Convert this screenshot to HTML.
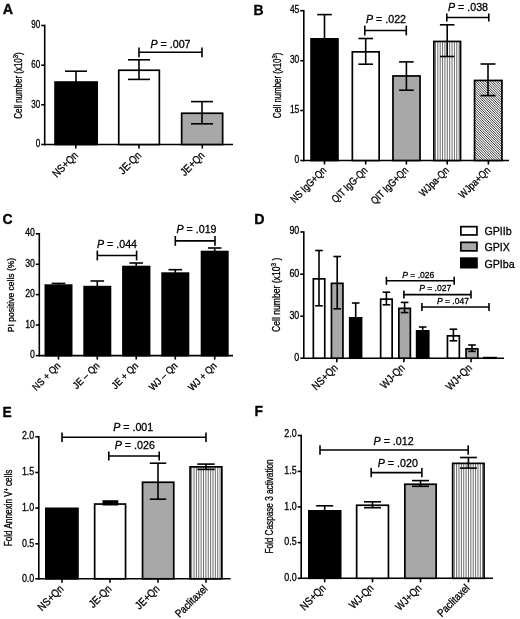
<!DOCTYPE html>
<html lang="en">
<head>
<meta charset="utf-8">
<title>Figure</title>
<style>
html,body{margin:0;padding:0;background:#fff;}
body{width:520px;height:619px;overflow:hidden;}
svg{display:block;}
svg text{font-family:"Liberation Sans",Arial,Helvetica,sans-serif;fill:#000;stroke:#000;stroke-width:0.3px;}
</style>
</head>
<body>
<svg width="520" height="619" viewBox="0 0 520 619">
<rect width="520" height="619" fill="#fff"/>
<text transform="translate(2.80,14.40)" font-size="14.3" text-anchor="start" font-weight="bold" font-style="normal">A</text>
<line x1="44.70" y1="24.70" x2="44.70" y2="145.30" stroke="#000" stroke-width="1.6"/>
<line x1="43.90" y1="144.50" x2="233.00" y2="144.50" stroke="#000" stroke-width="1.6"/>
<line x1="41.20" y1="25.50" x2="44.70" y2="25.50" stroke="#000" stroke-width="1.6"/>
<text transform="translate(40.20,27.50) scale(0.79,1)" font-size="10.2" text-anchor="end" font-weight="normal" font-style="normal">90</text>
<line x1="41.20" y1="65.20" x2="44.70" y2="65.20" stroke="#000" stroke-width="1.6"/>
<text transform="translate(40.20,67.90) scale(0.79,1)" font-size="10.2" text-anchor="end" font-weight="normal" font-style="normal">60</text>
<line x1="41.20" y1="104.80" x2="44.70" y2="104.80" stroke="#000" stroke-width="1.6"/>
<text transform="translate(40.20,107.50) scale(0.79,1)" font-size="10.2" text-anchor="end" font-weight="normal" font-style="normal">30</text>
<line x1="41.20" y1="144.50" x2="44.70" y2="144.50" stroke="#000" stroke-width="1.6"/>
<text transform="translate(40.20,147.20) scale(0.79,1)" font-size="10.2" text-anchor="end" font-weight="normal" font-style="normal">0</text>
<line x1="75.80" y1="144.50" x2="75.80" y2="148.50" stroke="#000" stroke-width="1.6"/>
<line x1="139.00" y1="144.50" x2="139.00" y2="148.50" stroke="#000" stroke-width="1.6"/>
<line x1="202.30" y1="144.50" x2="202.30" y2="148.50" stroke="#000" stroke-width="1.6"/>
<rect x="55.05" y="82.05" width="42.10" height="62.45" fill="#000" stroke="#000" stroke-width="1.7"/>
<rect x="118.75" y="70.25" width="40.60" height="74.25" fill="#fff" stroke="#000" stroke-width="1.7"/>
<rect x="181.65" y="113.25" width="41.00" height="31.25" fill="#a8a8a8" stroke="#000" stroke-width="1.7"/>
<line x1="76.00" y1="71.20" x2="76.00" y2="82.00" stroke="#000" stroke-width="1.6"/>
<line x1="65.00" y1="71.20" x2="87.00" y2="71.20" stroke="#000" stroke-width="1.6"/>
<line x1="139.00" y1="59.80" x2="139.00" y2="79.40" stroke="#000" stroke-width="1.6"/>
<line x1="128.00" y1="59.80" x2="150.00" y2="59.80" stroke="#000" stroke-width="1.6"/>
<line x1="128.00" y1="79.40" x2="150.00" y2="79.40" stroke="#000" stroke-width="1.6"/>
<line x1="202.00" y1="101.60" x2="202.00" y2="123.80" stroke="#000" stroke-width="1.6"/>
<line x1="191.00" y1="101.60" x2="213.00" y2="101.60" stroke="#000" stroke-width="1.6"/>
<line x1="191.00" y1="123.80" x2="213.00" y2="123.80" stroke="#000" stroke-width="1.6"/>
<line x1="139.00" y1="52.30" x2="202.00" y2="52.30" stroke="#000" stroke-width="1.6"/>
<line x1="139.00" y1="47.40" x2="139.00" y2="57.20" stroke="#000" stroke-width="1.6"/>
<line x1="202.00" y1="47.40" x2="202.00" y2="57.20" stroke="#000" stroke-width="1.6"/>
<text transform="translate(170.50,48.00) scale(0.97,1)" font-size="11" text-anchor="middle" font-weight="normal" font-style="normal"><tspan font-style="italic">P</tspan> = .007</text>
<text transform="translate(78.80,156.00) rotate(-45) scale(0.86,1)" font-size="11" text-anchor="end" font-weight="normal" font-style="normal">NS+Qn</text>
<text transform="translate(142.00,156.00) rotate(-45) scale(0.86,1)" font-size="11" text-anchor="end" font-weight="normal" font-style="normal">JE-Qn</text>
<text transform="translate(205.30,156.00) rotate(-45) scale(0.86,1)" font-size="11" text-anchor="end" font-weight="normal" font-style="normal">JE+Qn</text>
<text transform="translate(21.90,85.50) rotate(-90) scale(0.795,1)" font-size="10" text-anchor="middle" font-weight="normal" font-style="normal">Cell number (x10<tspan font-size="7.5" dy="-3.7">3</tspan><tspan dy="3.7">)</tspan></text>
<text transform="translate(253.50,14.60)" font-size="14" text-anchor="start" font-weight="bold" font-style="normal">B</text>
<line x1="303.80" y1="9.90" x2="303.80" y2="161.30" stroke="#000" stroke-width="1.6"/>
<line x1="303.00" y1="160.50" x2="509.00" y2="160.50" stroke="#000" stroke-width="1.6"/>
<line x1="300.30" y1="10.70" x2="303.80" y2="10.70" stroke="#000" stroke-width="1.6"/>
<text transform="translate(299.30,12.70) scale(0.78,1)" font-size="10.8" text-anchor="end" font-weight="normal" font-style="normal">45</text>
<line x1="300.30" y1="60.70" x2="303.80" y2="60.70" stroke="#000" stroke-width="1.6"/>
<text transform="translate(299.30,63.40) scale(0.78,1)" font-size="10.8" text-anchor="end" font-weight="normal" font-style="normal">30</text>
<line x1="300.30" y1="110.50" x2="303.80" y2="110.50" stroke="#000" stroke-width="1.6"/>
<text transform="translate(299.30,113.20) scale(0.78,1)" font-size="10.8" text-anchor="end" font-weight="normal" font-style="normal">15</text>
<line x1="300.30" y1="160.50" x2="303.80" y2="160.50" stroke="#000" stroke-width="1.6"/>
<text transform="translate(299.30,163.20) scale(0.78,1)" font-size="10.8" text-anchor="end" font-weight="normal" font-style="normal">0</text>
<line x1="324.50" y1="160.50" x2="324.50" y2="164.50" stroke="#000" stroke-width="1.6"/>
<line x1="365.70" y1="160.50" x2="365.70" y2="164.50" stroke="#000" stroke-width="1.6"/>
<line x1="406.40" y1="160.50" x2="406.40" y2="164.50" stroke="#000" stroke-width="1.6"/>
<line x1="447.20" y1="160.50" x2="447.20" y2="164.50" stroke="#000" stroke-width="1.6"/>
<line x1="488.40" y1="160.50" x2="488.40" y2="164.50" stroke="#000" stroke-width="1.6"/>
<rect x="311.05" y="38.85" width="26.90" height="121.65" fill="#000" stroke="#000" stroke-width="1.7"/>
<rect x="352.35" y="51.85" width="26.80" height="108.65" fill="#fff" stroke="#000" stroke-width="1.7"/>
<rect x="392.95" y="75.95" width="27.10" height="84.55" fill="#a8a8a8" stroke="#000" stroke-width="1.7"/>
<clipPath id="c1"><rect x="433.85" y="41.45" width="26.70" height="119.05"/></clipPath>
<rect x="433.85" y="41.45" width="26.70" height="119.05" fill="#fff"/>
<path clip-path="url(#c1)" d="M435.45 40.60V160.50M437.82 40.60V160.50M440.19 40.60V160.50M442.56 40.60V160.50M444.93 40.60V160.50M447.30 40.60V160.50M449.67 40.60V160.50M452.04 40.60V160.50M454.41 40.60V160.50M456.78 40.60V160.50M459.15 40.60V160.50" stroke="#3a3a3a" stroke-width="0.75" fill="none"/>
<rect x="433.85" y="41.45" width="26.70" height="119.05" fill="none" stroke="#000" stroke-width="1.7"/>
<clipPath id="c2"><rect x="474.55" y="80.45" width="27.40" height="80.05"/></clipPath>
<rect x="474.55" y="80.45" width="27.40" height="80.05" fill="#fff"/>
<path clip-path="url(#c2)" d="M392.80 79.60l80.90 80.90M395.25 79.60l80.90 80.90M397.70 79.60l80.90 80.90M400.15 79.60l80.90 80.90M402.60 79.60l80.90 80.90M405.05 79.60l80.90 80.90M407.50 79.60l80.90 80.90M409.95 79.60l80.90 80.90M412.40 79.60l80.90 80.90M414.85 79.60l80.90 80.90M417.30 79.60l80.90 80.90M419.75 79.60l80.90 80.90M422.20 79.60l80.90 80.90M424.65 79.60l80.90 80.90M427.10 79.60l80.90 80.90M429.55 79.60l80.90 80.90M432.00 79.60l80.90 80.90M434.45 79.60l80.90 80.90M436.90 79.60l80.90 80.90M439.35 79.60l80.90 80.90M441.80 79.60l80.90 80.90M444.25 79.60l80.90 80.90M446.70 79.60l80.90 80.90M449.15 79.60l80.90 80.90M451.60 79.60l80.90 80.90M454.05 79.60l80.90 80.90M456.50 79.60l80.90 80.90M458.95 79.60l80.90 80.90M461.40 79.60l80.90 80.90M463.85 79.60l80.90 80.90M466.30 79.60l80.90 80.90M468.75 79.60l80.90 80.90M471.20 79.60l80.90 80.90M473.65 79.60l80.90 80.90M476.10 79.60l80.90 80.90M478.55 79.60l80.90 80.90M481.00 79.60l80.90 80.90M483.45 79.60l80.90 80.90M485.90 79.60l80.90 80.90M488.35 79.60l80.90 80.90M490.80 79.60l80.90 80.90M493.25 79.60l80.90 80.90M495.70 79.60l80.90 80.90M498.15 79.60l80.90 80.90M500.60 79.60l80.90 80.90" stroke="#1a1a1a" stroke-width="0.85" fill="none"/>
<rect x="474.55" y="80.45" width="27.40" height="80.05" fill="none" stroke="#000" stroke-width="1.7"/>
<line x1="324.50" y1="14.60" x2="324.50" y2="39.00" stroke="#000" stroke-width="1.6"/>
<line x1="317.20" y1="14.60" x2="331.80" y2="14.60" stroke="#000" stroke-width="1.6"/>
<line x1="365.70" y1="38.50" x2="365.70" y2="64.20" stroke="#000" stroke-width="1.6"/>
<line x1="358.40" y1="38.50" x2="373.00" y2="38.50" stroke="#000" stroke-width="1.6"/>
<line x1="358.40" y1="64.20" x2="373.00" y2="64.20" stroke="#000" stroke-width="1.6"/>
<line x1="406.40" y1="61.90" x2="406.40" y2="90.20" stroke="#000" stroke-width="1.6"/>
<line x1="399.10" y1="61.90" x2="413.70" y2="61.90" stroke="#000" stroke-width="1.6"/>
<line x1="399.10" y1="90.20" x2="413.70" y2="90.20" stroke="#000" stroke-width="1.6"/>
<line x1="447.20" y1="24.80" x2="447.20" y2="56.50" stroke="#000" stroke-width="1.6"/>
<line x1="439.90" y1="24.80" x2="454.50" y2="24.80" stroke="#000" stroke-width="1.6"/>
<line x1="439.90" y1="56.50" x2="454.50" y2="56.50" stroke="#000" stroke-width="1.6"/>
<line x1="488.00" y1="64.00" x2="488.00" y2="95.60" stroke="#000" stroke-width="1.6"/>
<line x1="480.50" y1="64.00" x2="495.50" y2="64.00" stroke="#000" stroke-width="1.6"/>
<line x1="480.50" y1="95.60" x2="495.50" y2="95.60" stroke="#000" stroke-width="1.6"/>
<line x1="364.80" y1="30.50" x2="406.30" y2="30.50" stroke="#000" stroke-width="1.6"/>
<line x1="364.80" y1="25.60" x2="364.80" y2="35.40" stroke="#000" stroke-width="1.6"/>
<line x1="406.30" y1="25.60" x2="406.30" y2="35.40" stroke="#000" stroke-width="1.6"/>
<line x1="446.80" y1="17.50" x2="488.80" y2="17.50" stroke="#000" stroke-width="1.6"/>
<line x1="446.80" y1="13.50" x2="446.80" y2="21.50" stroke="#000" stroke-width="1.6"/>
<line x1="488.80" y1="13.50" x2="488.80" y2="21.50" stroke="#000" stroke-width="1.6"/>
<text transform="translate(386.00,22.60) scale(0.97,1)" font-size="11" text-anchor="middle" font-weight="normal" font-style="normal"><tspan font-style="italic">P</tspan> = .022</text>
<text transform="translate(468.00,10.80) scale(0.97,1)" font-size="11" text-anchor="middle" font-weight="normal" font-style="normal"><tspan font-style="italic">P</tspan> = .038</text>
<text transform="translate(327.00,171.10) rotate(-45) scale(0.83,1)" font-size="10.6" text-anchor="end" font-weight="normal" font-style="normal">NS IgG+Qn</text>
<text transform="translate(368.20,171.10) rotate(-45) scale(0.83,1)" font-size="10.6" text-anchor="end" font-weight="normal" font-style="normal">QIT IgG-Qn</text>
<text transform="translate(408.90,171.10) rotate(-45) scale(0.83,1)" font-size="10.6" text-anchor="end" font-weight="normal" font-style="normal">QIT IgG+Qn</text>
<text transform="translate(449.70,171.10) rotate(-45) scale(0.83,1)" font-size="10.6" text-anchor="end" font-weight="normal" font-style="normal">WJpa-Qn</text>
<text transform="translate(490.90,171.10) rotate(-45) scale(0.83,1)" font-size="10.6" text-anchor="end" font-weight="normal" font-style="normal">WJpa+Qn</text>
<text transform="translate(281.10,85.40) rotate(-90) scale(0.785,1)" font-size="10" text-anchor="middle" font-weight="normal" font-style="normal">Cell number (x10<tspan font-size="7.5" dy="-3.7">3</tspan><tspan dy="3.7">)</tspan></text>
<text transform="translate(2.50,224.40)" font-size="14" text-anchor="start" font-weight="bold" font-style="normal">C</text>
<line x1="39.30" y1="233.00" x2="39.30" y2="356.40" stroke="#000" stroke-width="1.6"/>
<line x1="38.50" y1="355.60" x2="233.00" y2="355.60" stroke="#000" stroke-width="1.6"/>
<line x1="35.80" y1="233.80" x2="39.30" y2="233.80" stroke="#000" stroke-width="1.6"/>
<text transform="translate(34.80,235.80) scale(0.87,1)" font-size="10" text-anchor="end" font-weight="normal" font-style="normal">40</text>
<line x1="35.80" y1="264.30" x2="39.30" y2="264.30" stroke="#000" stroke-width="1.6"/>
<text transform="translate(34.80,267.00) scale(0.87,1)" font-size="10" text-anchor="end" font-weight="normal" font-style="normal">30</text>
<line x1="35.80" y1="294.60" x2="39.30" y2="294.60" stroke="#000" stroke-width="1.6"/>
<text transform="translate(34.80,297.30) scale(0.87,1)" font-size="10" text-anchor="end" font-weight="normal" font-style="normal">20</text>
<line x1="35.80" y1="325.00" x2="39.30" y2="325.00" stroke="#000" stroke-width="1.6"/>
<text transform="translate(34.80,327.70) scale(0.87,1)" font-size="10" text-anchor="end" font-weight="normal" font-style="normal">10</text>
<line x1="35.80" y1="355.60" x2="39.30" y2="355.60" stroke="#000" stroke-width="1.6"/>
<text transform="translate(34.80,358.30) scale(0.87,1)" font-size="10" text-anchor="end" font-weight="normal" font-style="normal">0</text>
<line x1="58.50" y1="355.60" x2="58.50" y2="359.60" stroke="#000" stroke-width="1.6"/>
<line x1="97.30" y1="355.60" x2="97.30" y2="359.60" stroke="#000" stroke-width="1.6"/>
<line x1="136.20" y1="355.60" x2="136.20" y2="359.60" stroke="#000" stroke-width="1.6"/>
<line x1="175.30" y1="355.60" x2="175.30" y2="359.60" stroke="#000" stroke-width="1.6"/>
<line x1="214.70" y1="355.60" x2="214.70" y2="359.60" stroke="#000" stroke-width="1.6"/>
<rect x="45.35" y="285.15" width="26.30" height="70.45" fill="#000" stroke="#000" stroke-width="1.7"/>
<rect x="84.15" y="286.65" width="26.30" height="68.95" fill="#000" stroke="#000" stroke-width="1.7"/>
<rect x="122.95" y="266.55" width="26.60" height="89.05" fill="#000" stroke="#000" stroke-width="1.7"/>
<rect x="162.15" y="273.15" width="26.30" height="82.45" fill="#000" stroke="#000" stroke-width="1.7"/>
<rect x="201.55" y="251.55" width="26.30" height="104.05" fill="#000" stroke="#000" stroke-width="1.7"/>
<line x1="58.50" y1="283.40" x2="58.50" y2="285.00" stroke="#000" stroke-width="1.6"/>
<line x1="51.70" y1="283.40" x2="65.30" y2="283.40" stroke="#000" stroke-width="1.6"/>
<line x1="97.30" y1="281.00" x2="97.30" y2="286.00" stroke="#000" stroke-width="1.6"/>
<line x1="90.50" y1="281.00" x2="104.10" y2="281.00" stroke="#000" stroke-width="1.6"/>
<line x1="136.20" y1="263.00" x2="136.20" y2="266.00" stroke="#000" stroke-width="1.6"/>
<line x1="129.40" y1="263.00" x2="143.00" y2="263.00" stroke="#000" stroke-width="1.6"/>
<line x1="175.30" y1="269.70" x2="175.30" y2="273.00" stroke="#000" stroke-width="1.6"/>
<line x1="168.50" y1="269.70" x2="182.10" y2="269.70" stroke="#000" stroke-width="1.6"/>
<line x1="214.70" y1="248.00" x2="214.70" y2="251.00" stroke="#000" stroke-width="1.6"/>
<line x1="207.90" y1="248.00" x2="221.50" y2="248.00" stroke="#000" stroke-width="1.6"/>
<line x1="97.30" y1="255.50" x2="136.60" y2="255.50" stroke="#000" stroke-width="1.6"/>
<line x1="97.30" y1="250.60" x2="97.30" y2="260.40" stroke="#000" stroke-width="1.6"/>
<line x1="136.60" y1="250.60" x2="136.60" y2="260.40" stroke="#000" stroke-width="1.6"/>
<line x1="175.30" y1="240.90" x2="215.00" y2="240.90" stroke="#000" stroke-width="1.6"/>
<line x1="175.30" y1="236.00" x2="175.30" y2="245.80" stroke="#000" stroke-width="1.6"/>
<line x1="215.00" y1="236.00" x2="215.00" y2="245.80" stroke="#000" stroke-width="1.6"/>
<text transform="translate(117.00,247.50) scale(0.97,1)" font-size="11" text-anchor="middle" font-weight="normal" font-style="normal"><tspan font-style="italic">P</tspan> = .044</text>
<text transform="translate(196.50,233.00) scale(0.97,1)" font-size="11" text-anchor="middle" font-weight="normal" font-style="normal"><tspan font-style="italic">P</tspan> = .019</text>
<text transform="translate(61.20,366.30) rotate(-45) scale(0.91,1)" font-size="10" text-anchor="end" font-weight="normal" font-style="normal">NS + Qn</text>
<text transform="translate(100.00,366.30) rotate(-45) scale(0.91,1)" font-size="10" text-anchor="end" font-weight="normal" font-style="normal">JE – Qn</text>
<text transform="translate(138.90,366.30) rotate(-45) scale(0.91,1)" font-size="10" text-anchor="end" font-weight="normal" font-style="normal">JE + Qn</text>
<text transform="translate(178.00,366.30) rotate(-45) scale(0.91,1)" font-size="10" text-anchor="end" font-weight="normal" font-style="normal">WJ – Qn</text>
<text transform="translate(217.40,366.30) rotate(-45) scale(0.91,1)" font-size="10" text-anchor="end" font-weight="normal" font-style="normal">WJ + Qn</text>
<text transform="translate(13.90,295.00) rotate(-90) scale(0.9,1)" font-size="9.5" text-anchor="middle" font-weight="normal" font-style="normal">PI positive cells (%)</text>
<text transform="translate(254.30,224.40)" font-size="14.2" text-anchor="start" font-weight="bold" font-style="normal">D</text>
<line x1="303.80" y1="231.20" x2="303.80" y2="359.00" stroke="#000" stroke-width="1.6"/>
<line x1="303.00" y1="358.20" x2="504.00" y2="358.20" stroke="#000" stroke-width="1.6"/>
<line x1="300.30" y1="232.00" x2="303.80" y2="232.00" stroke="#000" stroke-width="1.6"/>
<text transform="translate(299.30,234.00) scale(0.87,1)" font-size="10.2" text-anchor="end" font-weight="normal" font-style="normal">90</text>
<line x1="300.30" y1="274.20" x2="303.80" y2="274.20" stroke="#000" stroke-width="1.6"/>
<text transform="translate(299.30,276.90) scale(0.87,1)" font-size="10.2" text-anchor="end" font-weight="normal" font-style="normal">60</text>
<line x1="300.30" y1="316.20" x2="303.80" y2="316.20" stroke="#000" stroke-width="1.6"/>
<text transform="translate(299.30,318.90) scale(0.87,1)" font-size="10.2" text-anchor="end" font-weight="normal" font-style="normal">30</text>
<line x1="300.30" y1="358.20" x2="303.80" y2="358.20" stroke="#000" stroke-width="1.6"/>
<text transform="translate(299.30,360.90) scale(0.87,1)" font-size="10.2" text-anchor="end" font-weight="normal" font-style="normal">0</text>
<line x1="336.80" y1="358.20" x2="336.80" y2="362.20" stroke="#000" stroke-width="1.6"/>
<line x1="403.90" y1="358.20" x2="403.90" y2="362.20" stroke="#000" stroke-width="1.6"/>
<line x1="471.00" y1="358.20" x2="471.00" y2="362.20" stroke="#000" stroke-width="1.6"/>
<rect x="313.35" y="278.85" width="11.40" height="79.35" fill="#fff" stroke="#000" stroke-width="1.7"/>
<rect x="331.45" y="283.35" width="11.50" height="74.85" fill="#a8a8a8" stroke="#000" stroke-width="1.7"/>
<rect x="349.75" y="317.85" width="11.80" height="40.35" fill="#000" stroke="#000" stroke-width="1.7"/>
<rect x="380.65" y="299.15" width="11.50" height="59.05" fill="#fff" stroke="#000" stroke-width="1.7"/>
<rect x="398.85" y="308.35" width="11.50" height="49.85" fill="#a8a8a8" stroke="#000" stroke-width="1.7"/>
<rect x="416.65" y="330.85" width="12.10" height="27.35" fill="#000" stroke="#000" stroke-width="1.7"/>
<rect x="447.45" y="335.85" width="11.90" height="22.35" fill="#fff" stroke="#000" stroke-width="1.7"/>
<rect x="466.05" y="348.85" width="11.80" height="9.35" fill="#a8a8a8" stroke="#000" stroke-width="1.7"/>
<rect x="483.85" y="357.65" width="12.30" height="0.55" fill="#000" stroke="#000" stroke-width="1.7"/>
<line x1="319.00" y1="250.50" x2="319.00" y2="305.80" stroke="#000" stroke-width="1.6"/>
<line x1="315.20" y1="250.50" x2="322.80" y2="250.50" stroke="#000" stroke-width="1.6"/>
<line x1="315.20" y1="305.80" x2="322.80" y2="305.80" stroke="#000" stroke-width="1.6"/>
<line x1="337.20" y1="256.50" x2="337.20" y2="308.80" stroke="#000" stroke-width="1.6"/>
<line x1="333.40" y1="256.50" x2="341.00" y2="256.50" stroke="#000" stroke-width="1.6"/>
<line x1="333.40" y1="308.80" x2="341.00" y2="308.80" stroke="#000" stroke-width="1.6"/>
<line x1="355.70" y1="303.00" x2="355.70" y2="318.00" stroke="#000" stroke-width="1.6"/>
<line x1="351.90" y1="303.00" x2="359.50" y2="303.00" stroke="#000" stroke-width="1.6"/>
<line x1="386.40" y1="292.20" x2="386.40" y2="304.80" stroke="#000" stroke-width="1.6"/>
<line x1="382.60" y1="292.20" x2="390.20" y2="292.20" stroke="#000" stroke-width="1.6"/>
<line x1="382.60" y1="304.80" x2="390.20" y2="304.80" stroke="#000" stroke-width="1.6"/>
<line x1="404.60" y1="302.40" x2="404.60" y2="312.60" stroke="#000" stroke-width="1.6"/>
<line x1="400.80" y1="302.40" x2="408.40" y2="302.40" stroke="#000" stroke-width="1.6"/>
<line x1="400.80" y1="312.60" x2="408.40" y2="312.60" stroke="#000" stroke-width="1.6"/>
<line x1="422.70" y1="327.00" x2="422.70" y2="331.00" stroke="#000" stroke-width="1.6"/>
<line x1="418.90" y1="327.00" x2="426.50" y2="327.00" stroke="#000" stroke-width="1.6"/>
<line x1="453.40" y1="329.20" x2="453.40" y2="340.80" stroke="#000" stroke-width="1.6"/>
<line x1="449.60" y1="329.20" x2="457.20" y2="329.20" stroke="#000" stroke-width="1.6"/>
<line x1="449.60" y1="340.80" x2="457.20" y2="340.80" stroke="#000" stroke-width="1.6"/>
<line x1="472.00" y1="345.00" x2="472.00" y2="351.40" stroke="#000" stroke-width="1.6"/>
<line x1="468.20" y1="345.00" x2="475.80" y2="345.00" stroke="#000" stroke-width="1.6"/>
<line x1="468.20" y1="351.40" x2="475.80" y2="351.40" stroke="#000" stroke-width="1.6"/>
<line x1="386.40" y1="280.80" x2="454.20" y2="280.80" stroke="#000" stroke-width="1.6"/>
<line x1="386.40" y1="276.80" x2="386.40" y2="284.80" stroke="#000" stroke-width="1.6"/>
<line x1="454.20" y1="276.80" x2="454.20" y2="284.80" stroke="#000" stroke-width="1.6"/>
<line x1="403.90" y1="294.60" x2="471.00" y2="294.60" stroke="#000" stroke-width="1.6"/>
<line x1="403.90" y1="290.60" x2="403.90" y2="298.60" stroke="#000" stroke-width="1.6"/>
<line x1="471.00" y1="290.60" x2="471.00" y2="298.60" stroke="#000" stroke-width="1.6"/>
<line x1="421.90" y1="307.00" x2="489.00" y2="307.00" stroke="#000" stroke-width="1.6"/>
<line x1="421.90" y1="303.00" x2="421.90" y2="311.00" stroke="#000" stroke-width="1.6"/>
<line x1="489.00" y1="303.00" x2="489.00" y2="311.00" stroke="#000" stroke-width="1.6"/>
<text transform="translate(418.30,278.00) scale(0.9,1)" font-size="9.5" text-anchor="middle" font-weight="normal" font-style="normal"><tspan font-style="italic">P</tspan> = .026</text>
<text transform="translate(435.20,291.00) scale(0.9,1)" font-size="9.5" text-anchor="middle" font-weight="normal" font-style="normal"><tspan font-style="italic">P</tspan> = .027</text>
<text transform="translate(452.90,303.80) scale(0.9,1)" font-size="9.5" text-anchor="middle" font-weight="normal" font-style="normal"><tspan font-style="italic">P</tspan> = .047</text>
<text transform="translate(338.40,368.60) rotate(-45) scale(0.86,1)" font-size="11" text-anchor="end" font-weight="normal" font-style="normal">NS+Qn</text>
<text transform="translate(405.50,368.60) rotate(-45) scale(0.86,1)" font-size="11" text-anchor="end" font-weight="normal" font-style="normal">WJ-Qn</text>
<text transform="translate(472.60,368.60) rotate(-45) scale(0.86,1)" font-size="11" text-anchor="end" font-weight="normal" font-style="normal">WJ+Qn</text>
<text transform="translate(279.80,294.80) rotate(-90) scale(0.86,1)" font-size="10" text-anchor="middle" font-weight="normal" font-style="normal">Cell number (x10<tspan font-size="7.5" dy="-3.7">3</tspan><tspan dy="3.7"> )</tspan></text>
<rect x="460.85" y="226.65" width="16.10" height="8.30" fill="#fff" stroke="#000" stroke-width="1.7"/>
<text transform="translate(484.40,235.40) scale(0.97,1)" font-size="11" text-anchor="start" font-weight="normal" font-style="normal">GPIIb</text>
<rect x="460.85" y="242.35" width="16.10" height="8.50" fill="#a8a8a8" stroke="#000" stroke-width="1.7"/>
<text transform="translate(484.40,251.30) scale(0.97,1)" font-size="11" text-anchor="start" font-weight="normal" font-style="normal">GPIX</text>
<rect x="460.85" y="258.15" width="16.10" height="9.50" fill="#000" stroke="#000" stroke-width="1.7"/>
<text transform="translate(484.40,267.60) scale(0.97,1)" font-size="11" text-anchor="start" font-weight="normal" font-style="normal">GPIba</text>
<text transform="translate(2.50,416.50)" font-size="13.8" text-anchor="start" font-weight="bold" font-style="normal">E</text>
<line x1="38.80" y1="436.00" x2="38.80" y2="579.60" stroke="#000" stroke-width="1.6"/>
<line x1="38.00" y1="578.80" x2="230.60" y2="578.80" stroke="#000" stroke-width="1.6"/>
<line x1="35.30" y1="436.80" x2="38.80" y2="436.80" stroke="#000" stroke-width="1.6"/>
<text transform="translate(34.30,438.50) scale(0.85,1)" font-size="10.5" text-anchor="end" font-weight="normal" font-style="normal">2.0</text>
<line x1="35.30" y1="472.50" x2="38.80" y2="472.50" stroke="#000" stroke-width="1.6"/>
<text transform="translate(34.30,475.20) scale(0.85,1)" font-size="10.5" text-anchor="end" font-weight="normal" font-style="normal">1.5</text>
<line x1="35.30" y1="508.10" x2="38.80" y2="508.10" stroke="#000" stroke-width="1.6"/>
<text transform="translate(34.30,510.80) scale(0.85,1)" font-size="10.5" text-anchor="end" font-weight="normal" font-style="normal">1.0</text>
<line x1="35.30" y1="543.80" x2="38.80" y2="543.80" stroke="#000" stroke-width="1.6"/>
<text transform="translate(34.30,546.50) scale(0.85,1)" font-size="10.5" text-anchor="end" font-weight="normal" font-style="normal">0.5</text>
<line x1="35.30" y1="578.80" x2="38.80" y2="578.80" stroke="#000" stroke-width="1.6"/>
<text transform="translate(34.30,581.50) scale(0.85,1)" font-size="10.5" text-anchor="end" font-weight="normal" font-style="normal">0.0</text>
<line x1="62.00" y1="578.80" x2="62.00" y2="582.80" stroke="#000" stroke-width="1.6"/>
<line x1="110.00" y1="578.80" x2="110.00" y2="582.80" stroke="#000" stroke-width="1.6"/>
<line x1="158.00" y1="578.80" x2="158.00" y2="582.80" stroke="#000" stroke-width="1.6"/>
<line x1="206.00" y1="578.80" x2="206.00" y2="582.80" stroke="#000" stroke-width="1.6"/>
<rect x="45.85" y="508.35" width="32.10" height="70.45" fill="#000" stroke="#000" stroke-width="1.7"/>
<rect x="94.65" y="504.05" width="30.90" height="74.75" fill="#fff" stroke="#000" stroke-width="1.7"/>
<rect x="142.55" y="482.25" width="31.20" height="96.55" fill="#a8a8a8" stroke="#000" stroke-width="1.7"/>
<clipPath id="c3"><rect x="190.05" y="466.85" width="31.80" height="111.95"/></clipPath>
<rect x="190.05" y="466.85" width="31.80" height="111.95" fill="#fff"/>
<path clip-path="url(#c3)" d="M191.65 466.00V578.80M194.02 466.00V578.80M196.39 466.00V578.80M198.76 466.00V578.80M201.13 466.00V578.80M203.50 466.00V578.80M205.87 466.00V578.80M208.24 466.00V578.80M210.61 466.00V578.80M212.98 466.00V578.80M215.35 466.00V578.80M217.72 466.00V578.80M220.09 466.00V578.80" stroke="#3a3a3a" stroke-width="0.75" fill="none"/>
<rect x="190.05" y="466.85" width="31.80" height="111.95" fill="none" stroke="#000" stroke-width="1.7"/>
<rect x="102.5" y="500.2" width="15.8" height="5.3" fill="#000"/>
<line x1="158.00" y1="463.20" x2="158.00" y2="499.20" stroke="#000" stroke-width="1.6"/>
<line x1="149.80" y1="463.20" x2="166.20" y2="463.20" stroke="#000" stroke-width="1.6"/>
<line x1="149.80" y1="499.20" x2="166.20" y2="499.20" stroke="#000" stroke-width="1.6"/>
<line x1="206.00" y1="464.10" x2="206.00" y2="469.40" stroke="#000" stroke-width="1.6"/>
<line x1="197.30" y1="464.10" x2="214.70" y2="464.10" stroke="#000" stroke-width="1.6"/>
<line x1="197.30" y1="469.40" x2="214.70" y2="469.40" stroke="#000" stroke-width="1.6"/>
<line x1="62.00" y1="437.20" x2="206.00" y2="437.20" stroke="#000" stroke-width="1.6"/>
<line x1="62.00" y1="432.40" x2="62.00" y2="442.00" stroke="#000" stroke-width="1.6"/>
<line x1="206.00" y1="432.40" x2="206.00" y2="442.00" stroke="#000" stroke-width="1.6"/>
<line x1="108.80" y1="456.00" x2="159.20" y2="456.00" stroke="#000" stroke-width="1.6"/>
<line x1="108.80" y1="451.40" x2="108.80" y2="460.60" stroke="#000" stroke-width="1.6"/>
<line x1="159.20" y1="451.40" x2="159.20" y2="460.60" stroke="#000" stroke-width="1.6"/>
<text transform="translate(133.20,431.00) scale(0.97,1)" font-size="11" text-anchor="middle" font-weight="normal" font-style="normal"><tspan font-style="italic">P</tspan> = .001</text>
<text transform="translate(134.80,448.60) scale(0.97,1)" font-size="11" text-anchor="middle" font-weight="normal" font-style="normal"><tspan font-style="italic">P</tspan> = .026</text>
<text transform="translate(64.20,589.50) rotate(-45) scale(0.86,1)" font-size="11" text-anchor="end" font-weight="normal" font-style="normal">NS+Qn</text>
<text transform="translate(112.20,589.50) rotate(-45) scale(0.86,1)" font-size="11" text-anchor="end" font-weight="normal" font-style="normal">JE-Qn</text>
<text transform="translate(160.20,589.50) rotate(-45) scale(0.86,1)" font-size="11" text-anchor="end" font-weight="normal" font-style="normal">JE+Qn</text>
<text transform="translate(208.20,589.50) rotate(-45) scale(0.86,1)" font-size="11" text-anchor="end" font-weight="normal" font-style="normal">Paclitaxel</text>
<text transform="translate(12.10,508.00) rotate(-90) scale(0.78,1)" font-size="10.5" text-anchor="middle" font-weight="normal" font-style="normal">Fold Annexin V<tspan font-size="6.5" dy="-3.5">+</tspan><tspan dy="3.5"> cells</tspan></text>
<text transform="translate(254.50,416.20)" font-size="13.8" text-anchor="start" font-weight="bold" font-style="normal">F</text>
<line x1="301.20" y1="434.70" x2="301.20" y2="579.10" stroke="#000" stroke-width="1.6"/>
<line x1="300.40" y1="578.30" x2="493.00" y2="578.30" stroke="#000" stroke-width="1.6"/>
<line x1="297.70" y1="435.50" x2="301.20" y2="435.50" stroke="#000" stroke-width="1.6"/>
<text transform="translate(296.70,437.20) scale(0.85,1)" font-size="10.5" text-anchor="end" font-weight="normal" font-style="normal">2.0</text>
<line x1="297.70" y1="471.40" x2="301.20" y2="471.40" stroke="#000" stroke-width="1.6"/>
<text transform="translate(296.70,474.10) scale(0.85,1)" font-size="10.5" text-anchor="end" font-weight="normal" font-style="normal">1.5</text>
<line x1="297.70" y1="506.90" x2="301.20" y2="506.90" stroke="#000" stroke-width="1.6"/>
<text transform="translate(296.70,509.60) scale(0.85,1)" font-size="10.5" text-anchor="end" font-weight="normal" font-style="normal">1.0</text>
<line x1="297.70" y1="542.60" x2="301.20" y2="542.60" stroke="#000" stroke-width="1.6"/>
<text transform="translate(296.70,545.30) scale(0.85,1)" font-size="10.5" text-anchor="end" font-weight="normal" font-style="normal">0.5</text>
<line x1="297.70" y1="578.30" x2="301.20" y2="578.30" stroke="#000" stroke-width="1.6"/>
<text transform="translate(296.70,581.00) scale(0.85,1)" font-size="10.5" text-anchor="end" font-weight="normal" font-style="normal">0.0</text>
<line x1="324.70" y1="578.30" x2="324.70" y2="582.30" stroke="#000" stroke-width="1.6"/>
<line x1="372.50" y1="578.30" x2="372.50" y2="582.30" stroke="#000" stroke-width="1.6"/>
<line x1="420.50" y1="578.30" x2="420.50" y2="582.30" stroke="#000" stroke-width="1.6"/>
<line x1="468.50" y1="578.30" x2="468.50" y2="582.30" stroke="#000" stroke-width="1.6"/>
<rect x="308.85" y="510.85" width="31.80" height="67.45" fill="#000" stroke="#000" stroke-width="1.7"/>
<rect x="356.65" y="505.25" width="31.80" height="73.05" fill="#fff" stroke="#000" stroke-width="1.7"/>
<rect x="404.85" y="484.25" width="31.30" height="94.05" fill="#a8a8a8" stroke="#000" stroke-width="1.7"/>
<clipPath id="c4"><rect x="452.65" y="463.35" width="31.40" height="114.95"/></clipPath>
<rect x="452.65" y="463.35" width="31.40" height="114.95" fill="#fff"/>
<path clip-path="url(#c4)" d="M454.25 462.50V578.30M456.62 462.50V578.30M458.99 462.50V578.30M461.36 462.50V578.30M463.73 462.50V578.30M466.10 462.50V578.30M468.47 462.50V578.30M470.84 462.50V578.30M473.21 462.50V578.30M475.58 462.50V578.30M477.95 462.50V578.30M480.32 462.50V578.30M482.69 462.50V578.30" stroke="#3a3a3a" stroke-width="0.75" fill="none"/>
<rect x="452.65" y="463.35" width="31.40" height="114.95" fill="none" stroke="#000" stroke-width="1.7"/>
<line x1="324.70" y1="505.80" x2="324.70" y2="511.00" stroke="#000" stroke-width="1.6"/>
<line x1="316.20" y1="505.80" x2="333.20" y2="505.80" stroke="#000" stroke-width="1.6"/>
<line x1="372.50" y1="501.80" x2="372.50" y2="507.70" stroke="#000" stroke-width="1.6"/>
<line x1="364.00" y1="501.80" x2="381.00" y2="501.80" stroke="#000" stroke-width="1.6"/>
<line x1="364.00" y1="507.70" x2="381.00" y2="507.70" stroke="#000" stroke-width="1.6"/>
<line x1="420.50" y1="480.60" x2="420.50" y2="486.30" stroke="#000" stroke-width="1.6"/>
<line x1="412.00" y1="480.60" x2="429.00" y2="480.60" stroke="#000" stroke-width="1.6"/>
<line x1="412.00" y1="486.30" x2="429.00" y2="486.30" stroke="#000" stroke-width="1.6"/>
<line x1="468.40" y1="457.50" x2="468.40" y2="468.10" stroke="#000" stroke-width="1.6"/>
<line x1="459.90" y1="457.50" x2="476.90" y2="457.50" stroke="#000" stroke-width="1.6"/>
<line x1="459.90" y1="468.10" x2="476.90" y2="468.10" stroke="#000" stroke-width="1.6"/>
<line x1="320.00" y1="450.00" x2="468.20" y2="450.00" stroke="#000" stroke-width="1.6"/>
<line x1="320.00" y1="445.30" x2="320.00" y2="454.70" stroke="#000" stroke-width="1.6"/>
<line x1="468.20" y1="445.30" x2="468.20" y2="454.70" stroke="#000" stroke-width="1.6"/>
<line x1="371.20" y1="472.60" x2="421.90" y2="472.60" stroke="#000" stroke-width="1.6"/>
<line x1="371.20" y1="467.90" x2="371.20" y2="477.30" stroke="#000" stroke-width="1.6"/>
<line x1="421.90" y1="467.90" x2="421.90" y2="477.30" stroke="#000" stroke-width="1.6"/>
<text transform="translate(393.60,445.00) scale(0.97,1)" font-size="11" text-anchor="middle" font-weight="normal" font-style="normal"><tspan font-style="italic">P</tspan> = .012</text>
<text transform="translate(397.80,466.70) scale(0.97,1)" font-size="11" text-anchor="middle" font-weight="normal" font-style="normal"><tspan font-style="italic">P</tspan> = .020</text>
<text transform="translate(326.50,588.80) rotate(-45) scale(0.86,1)" font-size="11" text-anchor="end" font-weight="normal" font-style="normal">NS+Qn</text>
<text transform="translate(374.30,588.80) rotate(-45) scale(0.86,1)" font-size="11" text-anchor="end" font-weight="normal" font-style="normal">WJ-Qn</text>
<text transform="translate(422.30,588.80) rotate(-45) scale(0.86,1)" font-size="11" text-anchor="end" font-weight="normal" font-style="normal">WJ+Qn</text>
<text transform="translate(470.30,588.80) rotate(-45) scale(0.86,1)" font-size="11" text-anchor="end" font-weight="normal" font-style="normal">Paclitaxel</text>
<text transform="translate(272.80,506.50) rotate(-90) scale(0.78,1)" font-size="10.5" text-anchor="middle" font-weight="normal" font-style="normal">Fold Caspase 3 activation</text>
</svg>
</body>
</html>
